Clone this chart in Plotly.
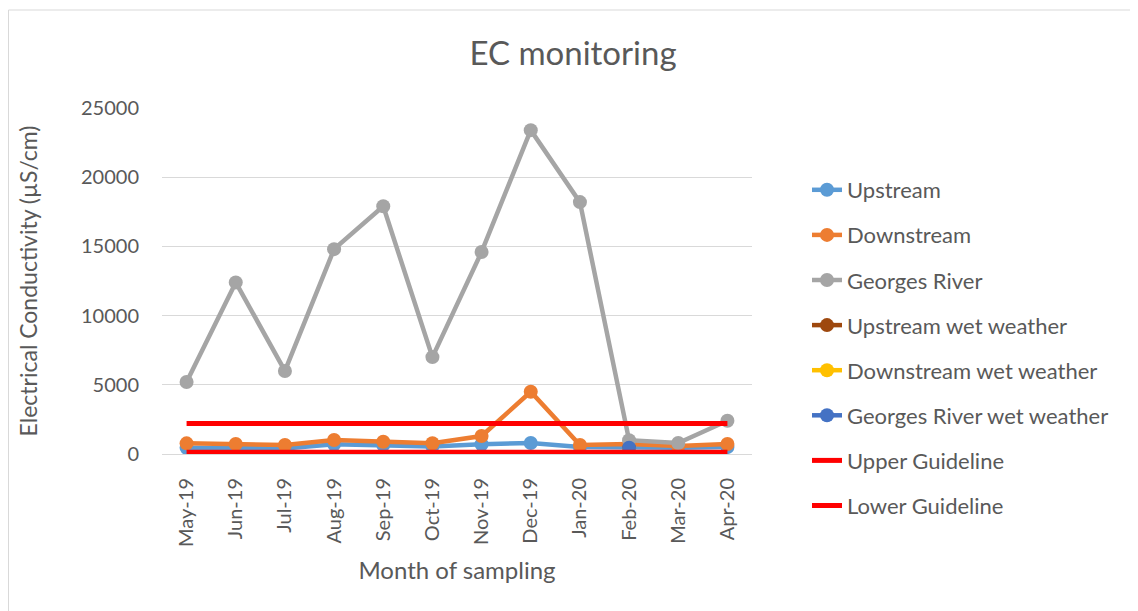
import plotly.graph_objects as go

months = ["May-19", "Jun-19", "Jul-19", "Aug-19", "Sep-19", "Oct-19",
          "Nov-19", "Dec-19", "Jan-20", "Feb-20", "Mar-20", "Apr-20"]

upstream = [450, 400, 400, 700, 650, 550, 700, 800, 500, 450, 450, 500]
downstream = [770, 720, 650, 1010, 890, 780, 1300, 4500, 650, 720, 580, 720]
georges_river = [5200, 12400, 6000, 14800, 17900, 7000, 14600, 23400, 18200, 1000, 800, 2400]
upstream_wet = [None, None, None, None, None, None, None, None, None, 400, None, None]
downstream_wet = [None, None, None, None, None, None, None, None, None, 250, None, None]
georges_wet = [None, None, None, None, None, None, None, None, None, 450, None, None]
upper_guideline = [2200] * 12
lower_guideline = [125] * 12

series = [
    ("Upstream", upstream, "#5B9BD5", True),
    ("Downstream", downstream, "#ED7D31", True),
    ("Georges River", georges_river, "#A5A5A5", True),
    ("Upstream wet weather", upstream_wet, "#9E480E", True),
    ("Downstream wet weather", downstream_wet, "#FFC000", True),
    ("Georges River wet weather", georges_wet, "#4472C4", True),
    ("Upper Guideline", upper_guideline, "#FF0000", False),
    ("Lower Guideline", lower_guideline, "#FF0000", False),
]

FONT = "Lato"
GREY = "#595959"
W, H = 1130, 603
L, T, PW, PH = 154, 100, 590, 346

fig = go.Figure()
for i, (name, vals, color, markers) in enumerate(series):
    fig.add_trace(go.Scatter(
        x=months, y=vals, name=name,
        mode="lines+markers" if markers else "lines",
        line=dict(color=color, width=4.5 if markers else 5),
        marker=dict(color=color, size=14),
        legendgroup=f"g{i}",
    ))

fig.update_layout(
    width=W, height=H,
    paper_bgcolor="white", plot_bgcolor="white",
    margin=dict(l=L, r=W - L - PW, t=T, b=H - T - PH, autoexpand=False),
    font=dict(family=FONT, color=GREY, size=20),
    title=dict(text="EC monitoring", x=565 / W, xanchor="center",
               y=1 - 45 / H, yanchor="middle", xref="container", yref="container",
               font=dict(size=33, color=GREY, family=FONT)),
    legend=dict(xref="container", yref="container", x=799 / W, y=1 - 161 / H,
                xanchor="left", yanchor="top", traceorder="grouped",
                tracegroupgap=13.5, font=dict(size=22, color=GREY, family=FONT),
                bgcolor="rgba(0,0,0,0)", maxheight=600),
    showlegend=True,
    shapes=[dict(type="rect", xref="paper", yref="paper",
                 x0=-(L - 0.5) / PW, x1=1.0 + 500 / PW, y0=-0.6, y1=1 + (T - 2) / PH,
                 line=dict(color="#D9D9D9", width=1), fillcolor="rgba(0,0,0,0)",
                 layer="below")],
)

fig.update_xaxes(
    type="category", range=[-0.5, 11.5], tickangle=-90,
    showgrid=False, showline=False, zeroline=False, automargin=False,
    ticks="", ticklabelstandoff=19,
    tickfont=dict(size=20, color=GREY, family=FONT),
    title=dict(text="Month of sampling", font=dict(size=24, color=GREY, family=FONT),
               standoff=16),
)
fig.update_yaxes(
    range=[0, 25000], dtick=5000, tick0=0, tickformat="d",
    showgrid=True, gridcolor="#D9D9D9", gridwidth=1,
    zeroline=True, zerolinecolor="#D9D9D9", zerolinewidth=1,
    showline=False, ticks="", ticklabelstandoff=22, automargin=False,
    tickfont=dict(size=20, color=GREY, family=FONT),
    title=dict(text="Electrical Conductivity (µS/cm)",
               font=dict(size=23, color=GREY, family=FONT), standoff=36),
)

fig.write_html("out.html")
